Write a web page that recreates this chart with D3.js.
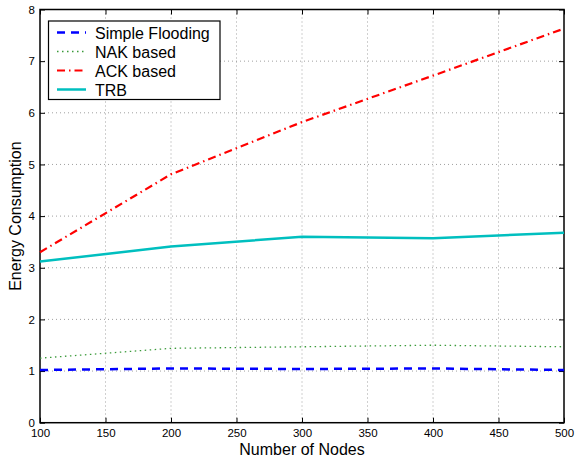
<!DOCTYPE html>
<html>
<head>
<meta charset="utf-8">
<script src="https://cdn.jsdelivr.net/npm/d3@7"></script>
<style>
  body { margin: 0; background: #fff; }
  text { font-family: "Liberation Sans", Arial, sans-serif; }
</style>
</head>
<body>
<div id="chart"></div>
<script>
// data
var nodes = [100, 200, 300, 400, 500];
var simpleFlooding = [1.02, 1.05, 1.04, 1.05, 1.02];
var nakBased = [1.25, 1.44, 1.47, 1.50, 1.47];
var ackBased = [3.30, 4.81, 5.82, 6.72, 7.63];
var trb = [3.12, 3.41, 3.60, 3.57, 3.68];
var xTicks = [100, 150, 200, 250, 300, 350, 400, 450, 500];
var yTicks = [0, 1, 2, 3, 4, 5, 6, 7, 8];

var series = [
    {name: "Simple Flooding", values: simpleFlooding, color: "#0000ff", width: 2.5, dash: "8,6"},
    {name: "NAK based", values: nakBased, color: "#3a9a3a", width: 1.3, dash: "1.5,3.5"},
    {name: "ACK based", values: ackBased, color: "#ff0000", width: 2.2, dash: "8,4,1.5,4"},
    {name: "TRB", values: trb, color: "#00bfbf", width: 2.5, dash: null}
];

var width = 575, height = 459;
var plotLeft = 40, plotRight = 564, plotTop = 9.5, plotBottom = 422.7;

var svg = d3.select("#chart").append("svg")
    .attr("width", width)
    .attr("height", height);

var x = d3.scaleLinear().domain([100, 500]).range([plotLeft, plotRight]);
var y = d3.scaleLinear().domain([0, 8]).range([plotBottom, plotTop]);

//grid
var grid = svg.append("g");
grid.selectAll("line.gx")
    .data(xTicks.slice(1, -1))
    .enter().append("line")
    .attr("x1", function(d){ return x(d); })
    .attr("x2", function(d){ return x(d); })
    .attr("y1", plotTop).attr("y2", plotBottom)
    .style("stroke", "#888").style("stroke-width", 0.8).style("stroke-dasharray", "1,3");
grid.selectAll("line.gy")
    .data(yTicks.slice(1, -1))
    .enter().append("line")
    .attr("y1", function(d){ return y(d); })
    .attr("y2", function(d){ return y(d); })
    .attr("x1", plotLeft).attr("x2", plotRight)
    .style("stroke", "#888").style("stroke-width", 0.8).style("stroke-dasharray", "1,3");

//axes, ticks inward
svg.append("g")
    .attr("transform", "translate(0," + plotBottom + ")")
    .call(d3.axisBottom(x).tickValues(xTicks).tickSize(-5).tickPadding(6))
    .call(function(g){ g.select(".domain").remove(); });
svg.append("g")
    .attr("transform", "translate(0," + plotTop + ")")
    .call(d3.axisTop(x).tickValues(xTicks).tickSize(-5).tickFormat(""))
    .call(function(g){ g.select(".domain").remove(); });
svg.append("g")
    .attr("transform", "translate(" + plotLeft + ",0)")
    .call(d3.axisLeft(y).tickValues(yTicks).tickSize(-5).tickPadding(5))
    .call(function(g){ g.select(".domain").remove(); });
svg.append("g")
    .attr("transform", "translate(" + plotRight + ",0)")
    .call(d3.axisRight(y).tickValues(yTicks).tickSize(-5).tickFormat(""))
    .call(function(g){ g.select(".domain").remove(); });

svg.selectAll(".tick line").style("stroke", "#000").style("stroke-width", 1);
svg.selectAll(".tick text").style("font-size", "11.5px").style("fill", "#000")
    .style("font-family", "'Liberation Sans', Arial, sans-serif");

svg.append("rect")
    .attr("x", plotLeft).attr("y", plotTop)
    .attr("width", plotRight - plotLeft).attr("height", plotBottom - plotTop)
    .style("fill", "none").style("stroke", "#000").style("stroke-width", 1.5);

//lines
var line = d3.line()
    .x(function(d, i){ return x(nodes[i]); })
    .y(function(d){ return y(d); });

svg.selectAll("path.series")
    .data(series)
    .enter().append("path")
    .attr("class", "series")
    .attr("d", function(d){ return line(d.values); })
    .style("fill", "none")
    .style("stroke", function(d){ return d.color; })
    .style("stroke-width", function(d){ return d.width; })
    .style("stroke-dasharray", function(d){ return d.dash; });

//legend
var legend = svg.append("g");
legend.append("rect")
    .attr("x", 48.5).attr("y", 21)
    .attr("width", 171.5).attr("height", 78.5)
    .style("fill", "#fff").style("stroke", "#000").style("stroke-width", 1.2);

var items = legend.selectAll("g.item")
    .data(series)
    .enter().append("g")
    .attr("class", "item")
    .attr("transform", function(d, i){ return "translate(0," + (32.5 + i * 19) + ")"; });

items.append("line")
    .attr("x1", 57).attr("x2", 86)
    .attr("y1", 0).attr("y2", 0)
    .style("stroke", function(d){ return d.color; })
    .style("stroke-width", function(d){ return d.width; })
    .style("stroke-dasharray", function(d){ return d.dash; });

items.append("text")
    .attr("x", 95).attr("y", 6)
    .style("font-size", "16px")
    .text(function(d){ return d.name; });

//axis labels
svg.append("text")
    .attr("x", (plotLeft + plotRight) / 2).attr("y", 455)
    .attr("text-anchor", "middle")
    .style("font-size", "16px")
    .text("Number of Nodes");

svg.append("text")
    .attr("transform", "translate(21," + ((plotTop + plotBottom) / 2) + ") rotate(-90)")
    .attr("text-anchor", "middle")
    .style("font-size", "16px")
    .text("Energy Consumption");
</script>
</body>
</html>
